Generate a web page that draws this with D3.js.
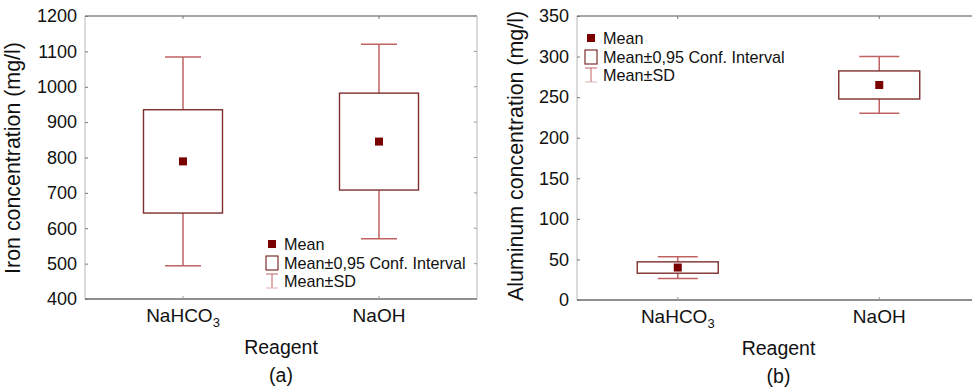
<!DOCTYPE html>
<html>
<head>
<meta charset="utf-8">
<script src="https://cdn.jsdelivr.net/npm/d3@7"></script>
<style>
  body { margin: 0; background: #fff; }
  text { font-family: "Liberation Sans", Arial, sans-serif; fill: #111; }
</style>
</head>
<body>
<div id="chart"></div>
<script>
// values
const reagents = ["NaHCO3", "NaOH"];
const ironMean = [789, 845];
const ironCI = [146, 137];
const ironSD = [295, 275];
const ironTicks = [400, 500, 600, 700, 800, 900, 1000, 1100, 1200];
const alMean = [40, 265];
const alCI = [7, 17.3];
const alSD = [13.4, 35];
const alTicks = [0, 50, 100, 150, 200, 250, 300, 350];
const legendLabels = ["Mean", "Mean\u00b10,95 Conf. Interval", "Mean\u00b1SD"];

const boxColor = "#7d2f2f", whiskerColor = "#bf6262", meanColor = "#7a0000";

const svg = d3.select("#chart").append("svg")
    .attr("width", 972)
    .attr("height", 389);

function catLabel(sel, d) {
  if (d === "NaHCO3") {
    sel.text("NaHCO");
    sel.append("tspan").attr("dy", 5).style("font-size", "13px").text("3");
  } else {
    sel.text(d);
  }
}

function drawPanel(cfg) {
  const g = svg.append("g");
  const y = d3.scaleLinear().domain(cfg.domain).range([cfg.bottom, cfg.top]);
  const x = d3.scalePoint().domain(reagents).range([cfg.left, cfg.right]).padding(0.5);

  // frame
  g.append("line").attr("x1", cfg.left).attr("x2", cfg.right).attr("y1", cfg.top).attr("y2", cfg.top)
    .style("stroke", "#8a8a8a").style("stroke-width", 1.3);
  g.append("line").attr("x1", cfg.left).attr("x2", cfg.left).attr("y1", cfg.top).attr("y2", cfg.bottom)
    .style("stroke", "#c8c8c8").style("stroke-width", 1.3);
  g.append("line").attr("x1", cfg.right).attr("x2", cfg.right).attr("y1", cfg.top).attr("y2", cfg.bottom)
    .style("stroke", "#c8c8c8").style("stroke-width", 1.3);
  g.append("line").attr("x1", cfg.left).attr("x2", cfg.right).attr("y1", cfg.bottom).attr("y2", cfg.bottom)
    .style("stroke", "#6a6a6a").style("stroke-width", 1.3);

  // y axis
  const yAxis = g.append("g").attr("transform", `translate(${cfg.left},0)`)
    .call(d3.axisLeft(y).tickValues(cfg.ticks).tickFormat(d3.format("d")).tickSize(-3).tickPadding(8));
  yAxis.select(".domain").remove();
  yAxis.selectAll("line").style("stroke", "#777");
  yAxis.selectAll("text").style("font-size", "18px").style("fill", "#111")
    .style("font-family", "'Liberation Sans', Arial, sans-serif");
  // right side ticks
  g.selectAll(".rtick").data(cfg.ticks).enter().append("line")
    .attr("x1", cfg.right - 3).attr("x2", cfg.right)
    .attr("y1", d => y(d)).attr("y2", d => y(d))
    .style("stroke", "#999");
  // top / bottom ticks at categories
  g.selectAll(".ttick").data(reagents).enter().append("line")
    .attr("x1", d => x(d)).attr("x2", d => x(d))
    .attr("y1", cfg.top).attr("y2", cfg.top + 3).style("stroke", "#777");
  g.selectAll(".btick").data(reagents).enter().append("line")
    .attr("x1", d => x(d)).attr("x2", d => x(d))
    .attr("y1", cfg.bottom - 3).attr("y2", cfg.bottom).style("stroke", "#999");

  // category labels
  g.selectAll(".cat").data(reagents).enter().append("text")
    .attr("x", d => x(d)).attr("y", cfg.bottom + 23)
    .attr("text-anchor", "middle").style("font-size", "19px")
    .each(function(d) { catLabel(d3.select(this), d); });

  g.append("text").attr("x", (cfg.left + cfg.right) / 2).attr("y", cfg.bottom + 55)
    .attr("text-anchor", "middle").style("font-size", "19.5px").text("Reagent");
  g.append("text").attr("x", (cfg.left + cfg.right) / 2).attr("y", cfg.bottom + 83)
    .attr("text-anchor", "middle").style("font-size", "19.5px").text(cfg.tag);

  g.append("text")
    .attr("transform", `translate(${cfg.ylabX},${cfg.ylabY}) rotate(-90)`)
    .attr("text-anchor", "middle").style("font-size", cfg.ylabSize).text(cfg.ylabel);

  const idx = d3.range(reagents.length);
  const boxW = cfg.boxW, capW = cfg.capW;

  // SD whiskers
  g.selectAll(".sd").data(idx).enter().append("line")
    .attr("x1", i => x(reagents[i])).attr("x2", i => x(reagents[i]))
    .attr("y1", i => y(cfg.mean[i] + cfg.sd[i])).attr("y2", i => y(cfg.mean[i] - cfg.sd[i]))
    .style("stroke", whiskerColor).style("stroke-width", 1.5);
  [1, -1].forEach(s => {
    g.selectAll(".cap" + s).data(idx).enter().append("line")
      .attr("x1", i => x(reagents[i]) - capW / 2).attr("x2", i => x(reagents[i]) + capW / 2)
      .attr("y1", i => y(cfg.mean[i] + s * cfg.sd[i])).attr("y2", i => y(cfg.mean[i] + s * cfg.sd[i]))
      .style("stroke", whiskerColor).style("stroke-width", 1.5);
  });

  // CI boxes
  g.selectAll(".box").data(idx).enter().append("rect")
    .attr("x", i => x(reagents[i]) - boxW / 2).attr("width", boxW)
    .attr("y", i => y(cfg.mean[i] + cfg.ci[i]))
    .attr("height", i => y(cfg.mean[i] - cfg.ci[i]) - y(cfg.mean[i] + cfg.ci[i]))
    .style("fill", "#fff").style("stroke", boxColor).style("stroke-width", 1.4);

  // means
  g.selectAll(".mean").data(idx).enter().append("rect")
    .attr("x", i => x(reagents[i]) - 4).attr("y", i => y(cfg.mean[i]) - 4)
    .attr("width", 8).attr("height", 8).style("fill", meanColor);

  // legend
  const lg = g.append("g").attr("transform", `translate(${cfg.legX},${cfg.legY})`);
  lg.append("rect").attr("x", -4).attr("y", -4).attr("width", 8).attr("height", 8).style("fill", meanColor);
  lg.append("rect").attr("x", -6).attr("y", 12).attr("width", 12).attr("height", 14)
    .style("fill", "#fff").style("stroke", boxColor).style("stroke-width", 1.2);
  lg.append("line").attr("x1", 0).attr("x2", 0).attr("y1", 30).attr("y2", 44).style("stroke", whiskerColor);
  lg.append("line").attr("x1", -6).attr("x2", 6).attr("y1", 30).attr("y2", 30).style("stroke", whiskerColor);
  lg.append("line").attr("x1", -6).attr("x2", 6).attr("y1", 44).attr("y2", 44).style("stroke", "#e0b0b0");
  lg.selectAll(".lt").data(legendLabels).enter().append("text")
    .attr("x", 12).attr("y", (d, i) => 6 + i * 18.7)
    .style("font-size", "16.2px").text(d => d);
}

drawPanel({
  left: 85, right: 477, top: 16, bottom: 299,
  domain: [400, 1200], ticks: ironTicks,
  mean: ironMean, ci: ironCI, sd: ironSD,
  boxW: 79, capW: 36,
  ylabel: "Iron concentration (mg/l)", ylabX: 20, ylabY: 158, ylabSize: "21.4px",
  tag: "(a)", legX: 272, legY: 244
});

drawPanel({
  left: 577, right: 980, top: 16, bottom: 300,
  domain: [0, 350], ticks: alTicks,
  mean: alMean, ci: alCI, sd: alSD,
  boxW: 81, capW: 40,
  ylabel: "Aluminum concentration (mg/l)", ylabX: 523, ylabY: 156, ylabSize: "21.4px",
  tag: "(b)", legX: 591, legY: 38
});
</script>
</body>
</html>
